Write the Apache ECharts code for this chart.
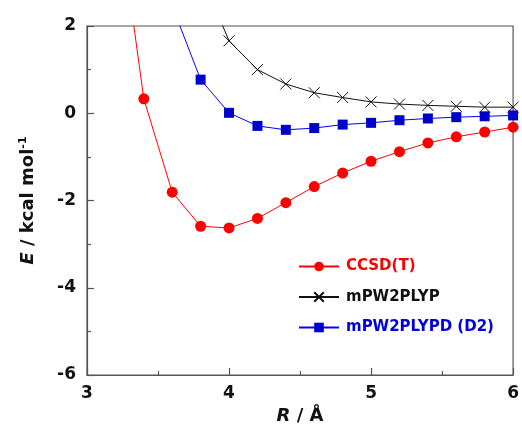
<!DOCTYPE html>
<html>
<head>
<meta charset="utf-8">
<script src="https://cdn.jsdelivr.net/npm/echarts@6/dist/echarts.min.js"></script>
<style>html,body{margin:0;padding:0;background:#fff;}#c{width:522px;height:431px;}</style>
</head>
<body>
<div id="c"></div>
<script>
var ccsdR = [3.2, 3.4, 3.6, 3.8, 4.0, 4.2, 4.4, 4.6, 4.8, 5.0, 5.2, 5.4, 5.6, 5.8, 6.0];
var ccsdE = [5.1, 0.33, -1.81, -2.59, -2.63, -2.41, -2.05, -1.68, -1.37, -1.10, -0.88, -0.68, -0.54, -0.43, -0.32];
var mpwR = [3.8, 4.0, 4.2, 4.4, 4.6, 4.8, 5.0, 5.2, 5.4, 5.6, 5.8, 6.0];
var mpwE = [3.2, 1.66, 1.00, 0.67, 0.47, 0.36, 0.26, 0.21, 0.18, 0.16, 0.14, 0.14];
var mpwdR = [3.6, 3.8, 4.0, 4.2, 4.4, 4.6, 4.8, 5.0, 5.2, 5.4, 5.6, 5.8, 6.0];
var mpwdE = [2.46, 0.77, 0.01, -0.29, -0.38, -0.34, -0.26, -0.22, -0.16, -0.12, -0.09, -0.07, -0.05];
var seriesNames = ['CCSD(T)', 'mPW2PLYP', 'mPW2PLYPD (D2)'];
var xTicks = [3, 4, 5, 6];
var yTicks = [-6, -4, -2, 0, 2];

function pairs(xs, ys) { return xs.map(function (x, i) { return [x, ys[i]]; }); }

var crossPath = 'path://M0,0 L10,10 M10,0 L0,10';
var FONT = '"DejaVu Sans", sans-serif';
var chart = echarts.init(document.getElementById('c'), null, { renderer: 'canvas' });
var axisCol = '#555';
chart.setOption({
  animation: false,
  backgroundColor: '#fff',
  grid: { left: 87, right: 7, top: 26, bottom: 56, show: true, borderColor: axisCol, borderWidth: 1.2, backgroundColor: 'transparent' },
  xAxis: {
    type: 'value', min: xTicks[0], max: xTicks[xTicks.length - 1], interval: 1,
    axisLine: { show: true, onZero: false, lineStyle: { color: axisCol, width: 1.2 } },
    axisTick: { show: true, inside: true, length: 7, lineStyle: { color: axisCol, width: 1.2 } },
    minorTick: { show: true, splitNumber: 2, length: 4, lineStyle: { color: axisCol, width: 1.2 } },
    splitLine: { show: false },
    axisLabel: { color: '#111', fontSize: 17, fontWeight: 'bold', fontFamily: FONT, margin: 10 },
    name: '{i|R} / Å', nameLocation: 'middle', nameGap: 28,
    nameTextStyle: {
      color: '#111', fontSize: 18, fontWeight: 'bold', fontFamily: FONT,
      rich: { i: { fontStyle: 'italic', fontWeight: 'bold', fontSize: 18, fontFamily: FONT, color: '#111' } }
    }
  },
  yAxis: {
    type: 'value', min: yTicks[0], max: yTicks[yTicks.length - 1], interval: 2,
    axisLine: { show: true, onZero: false, lineStyle: { color: axisCol, width: 1.2 } },
    axisTick: { show: true, inside: true, length: 7, lineStyle: { color: axisCol, width: 1.2 } },
    minorTick: { show: true, splitNumber: 2, length: 4, lineStyle: { color: axisCol, width: 1.2 } },
    splitLine: { show: false },
    axisLabel: { color: '#111', fontSize: 17, fontWeight: 'bold', fontFamily: FONT, margin: 11 },
    name: '{i|E} / kcal mol{s|-1}', nameLocation: 'middle', nameGap: 48, nameRotate: 90,
    nameTextStyle: {
      color: '#111', fontSize: 18, fontWeight: 'bold', fontFamily: FONT,
      rich: {
        i: { fontStyle: 'italic', fontWeight: 'bold', fontSize: 18, fontFamily: FONT, color: '#111' },
        s: { fontSize: 11, fontWeight: 'bold', fontFamily: FONT, color: '#111', verticalAlign: 'top', padding: [0, 0, 10, 0] }
      }
    }
  },
  legend: {
    orient: 'vertical', left: 298, top: 259, padding: 0, itemWidth: 40, itemHeight: 12, itemGap: 15.5,
    textStyle: { fontSize: 15, fontWeight: 'bold', fontFamily: FONT, padding: [0, 0, 0, 2] },
    data: [
      { name: seriesNames[0], textStyle: { color: '#ff0000' } },
      { name: seriesNames[1], textStyle: { color: '#111' } },
      { name: seriesNames[2], textStyle: { color: '#0000dd' } }
    ]
  },
  series: [
    {
      name: seriesNames[0], type: 'line', data: pairs(ccsdR, ccsdE), clip: true,
      symbol: 'circle', symbolSize: 11, showAllSymbol: true,
      lineStyle: { color: '#ff0000', width: 1 }, itemStyle: { color: '#ff0000' }
    },
    {
      name: seriesNames[1], type: 'line', data: pairs(mpwR, mpwE), clip: true,
      symbol: crossPath, symbolSize: 11, showAllSymbol: true,
      lineStyle: { color: '#111', width: 1 }, itemStyle: { color: 'none', borderColor: '#111', borderWidth: 1 }
    },
    {
      name: seriesNames[2], type: 'line', data: pairs(mpwdR, mpwdE), clip: true,
      symbol: 'rect', symbolSize: 10, showAllSymbol: true,
      lineStyle: { color: '#0000ff', width: 1 }, itemStyle: { color: '#0000cc' }
    }
  ]
});
</script>
</body>
</html>
